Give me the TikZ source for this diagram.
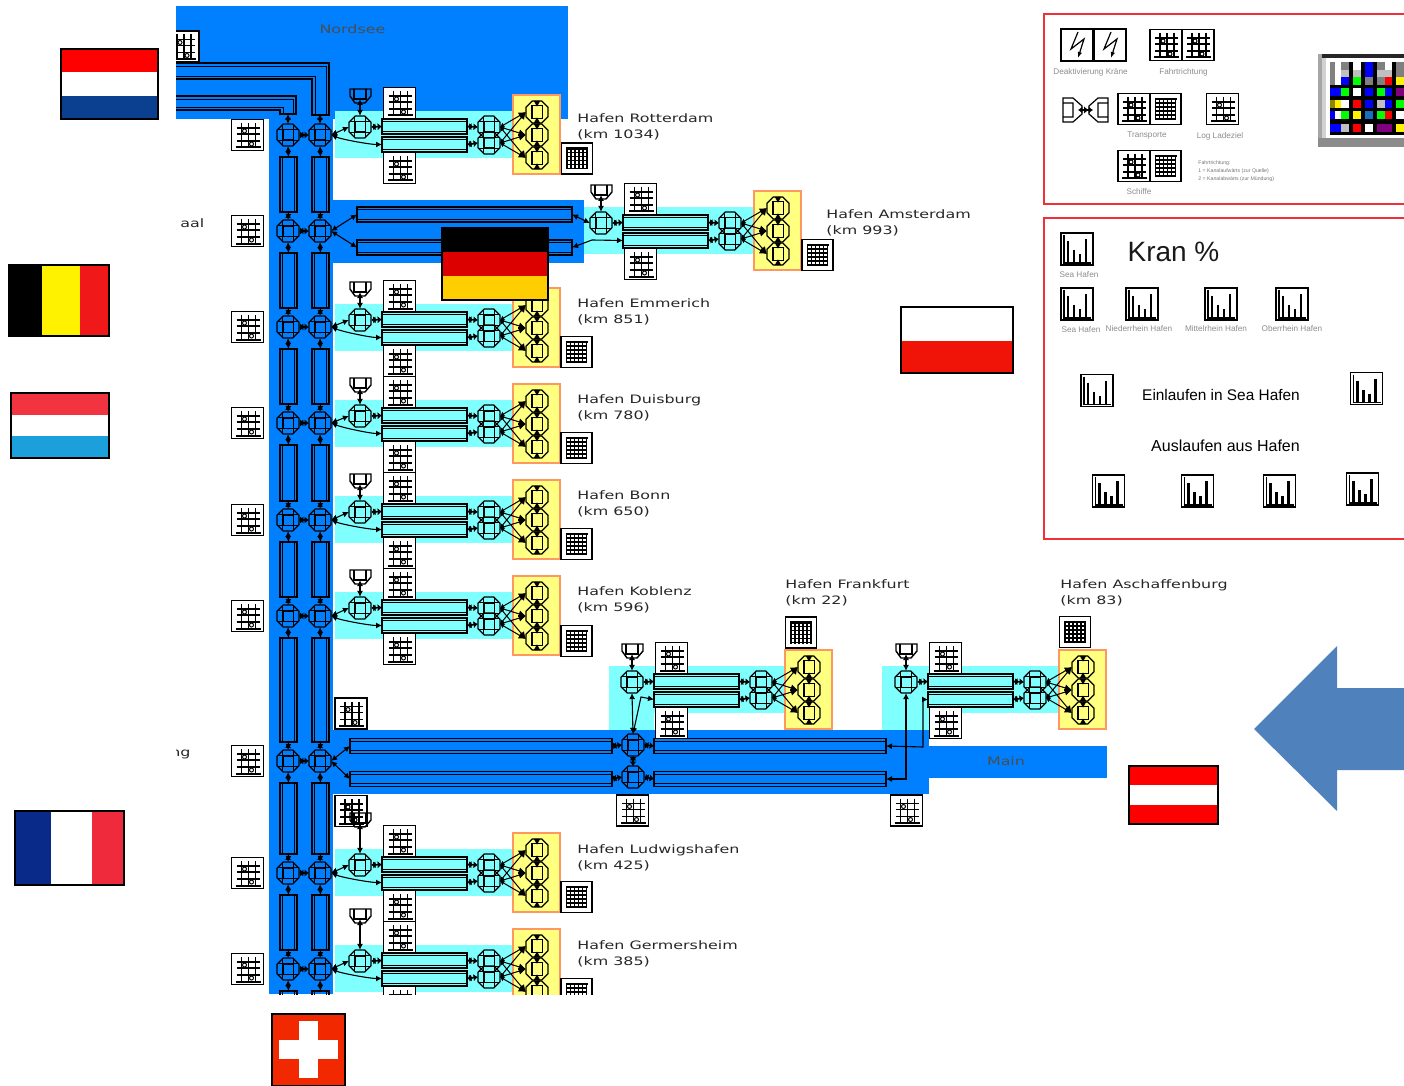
\documentclass[tikz,border=0pt]{standalone}
\usepackage{fontspec}
\setmainfont{Liberation Sans}
\newfontfamily\portfont[FakeStretch=1.37]{DejaVu Sans}
\usetikzlibrary{arrows.meta,shapes.geometric}
\definecolor{seablue}{HTML}{0080FF}
\definecolor{portcyan}{HTML}{80FFFF}
\definecolor{portyellow}{HTML}{FFFF80}
\definecolor{portorange}{HTML}{FF9860}
\definecolor{panelred}{HTML}{EE3038}
\definecolor{arrowblue}{HTML}{4F81BD}
\definecolor{nlblue}{HTML}{0B3F8F}
\definecolor{frblue}{HTML}{0A2A8A}
\definecolor{frred}{HTML}{EE2A3C}
\definecolor{beyellow}{HTML}{FFF200}
\definecolor{bered}{HTML}{F01818}
\definecolor{lured}{HTML}{F23340}
\definecolor{lublue}{HTML}{1CA0DC}
\definecolor{chred}{HTML}{F22800}
\definecolor{degold}{HTML}{FFCE00}
\definecolor{dered}{HTML}{DD0000}
\definecolor{plred}{HTML}{F01408}
\tikzset{
  link/.style={<->,line width=.55pt},
  fatlink/.style={{Latex[length=2.2pt,width=3.6pt]}-{Latex[length=2.2pt,width=3.6pt]Latex[length=2.2pt,width=3.6pt]},line width=.7pt},
  fanlink/.style={{Latex[length=2pt,width=2.6pt]}-{Latex[length=3.6pt,width=3.6pt]},line width=.5pt},
  iconbox/.style={draw=black,line width=.8pt,fill=white},
  panelbox/.style={draw=panelred,line width=.8pt},
  flagbox/.style={draw=black,line width=.8pt},
  portlab/.style={font=\portfont\fontsize{5.8}{8}\selectfont,text=black!85,align=left,anchor=west,inner sep=0},
  smalllab/.style={font=\fontsize{4.1}{5}\selectfont,text=black!45,inner sep=0},
  biglab/.style={font=\fontsize{7.7}{9}\selectfont,inner sep=0},
  octnode/.style={regular polygon,regular polygon sides=8,draw=black,line width=.6pt,
    minimum size=12pt,inner sep=0,outer sep=0,
    path picture={
      \draw[line width=.45pt] ([xshift=-2.6pt]path picture bounding box.north)--([xshift=-2.6pt]path picture bounding box.south);
      \draw[line width=.45pt] ([xshift=2.6pt]path picture bounding box.north)--([xshift=2.6pt]path picture bounding box.south);
      \draw[line width=.45pt] ([yshift=-2.6pt]path picture bounding box.west)--([yshift=-2.6pt]path picture bounding box.east);
      \draw[line width=.45pt] ([yshift=2.6pt]path picture bounding box.west)--([yshift=2.6pt]path picture bounding box.east);
      \draw[line width=.7pt] ([shift={(-2.6pt,-2.6pt)}]path picture bounding box.center) rectangle ([shift={(2.6pt,2.6pt)}]path picture bounding box.center);
    }},
  keyoct/.style={octnode,
    path picture={
      \draw[line width=.7pt] ([shift={(-2.6pt,-3.2pt)}]path picture bounding box.center) rectangle ([shift={(2.6pt,3.2pt)}]path picture bounding box.center);
      \fill ([xshift=-1.6pt]path picture bounding box.north) -- ([xshift=1.6pt]path picture bounding box.north) -- ([yshift=-2.8pt]path picture bounding box.north) -- cycle;
      \fill ([xshift=-1.6pt]path picture bounding box.south) -- ([xshift=1.6pt]path picture bounding box.south) -- ([yshift=2.8pt]path picture bounding box.south) -- cycle;
    }},
  hlane/.style={draw=black,line width=.7pt,inner sep=0,outer sep=0,minimum height=7.5pt,
    path picture={
      \draw[line width=.4pt] ([yshift=-1.4pt]path picture bounding box.north west)--([yshift=-1.4pt]path picture bounding box.north east);
      \draw[line width=.4pt] ([yshift=1.4pt]path picture bounding box.south west)--([yshift=1.4pt]path picture bounding box.south east);
    }},
  vlane/.style={draw=black,line width=.7pt,inner sep=0,outer sep=0,minimum width=8.5pt,
    path picture={
      \draw[line width=.4pt] ([xshift=1.4pt]path picture bounding box.north west)--([xshift=1.4pt]path picture bounding box.south west);
      \draw[line width=.4pt] ([xshift=-1.4pt]path picture bounding box.north east)--([xshift=-1.4pt]path picture bounding box.south east);
    }},
  pics/gridicon/.style={code={
    \draw[iconbox] (-16,-15.5) rectangle (16,15.5);
    \foreach \k in {-6,1,8} \draw[line width=.6pt] (\k,-12)--(\k,12);
    \foreach \k in {-7,-1,6} \draw[line width=.6pt] (-11,\k)--(12,\k);
    \draw[line width=1pt] (-12,12.5)--(13,12.5);
    \draw[line width=.5pt,fill=white] (-3,-4) circle (2);
    \draw[line width=.5pt,fill=white] (4,9) circle (2);
  }},
  pics/tableicon/.style={code={
    \draw[iconbox] (-15.5,-15.5) rectangle (15.5,15.5);
    \foreach \k in {-10,-6,...,10} {
      \draw[line width=.65pt] (\k,-10)--(\k,11);
      \draw[line width=.65pt] (-10,\k)--(10,\k);
    }
    \draw[line width=1.2pt] (-11,-10)--(11,-10);
  }},
  pics/chartbox/.style={code={
    \draw[draw=black,line width=.8pt] (-16,-16) rectangle (16,16);
    \draw[line width=.8pt] (-13,-14)--(-13,14)--(14,14);
    \draw[line width=1.3pt] (-9,-8)--(-9,14);
    \draw[line width=1.3pt] (-3,1)--(-3,14);
    \draw[line width=1.3pt] (3,5)--(3,14);
    \draw[line width=1.3pt] (9,-10)--(9,14);
  }},
  pics/boltbox/.style={code={
    \draw[iconbox] (-16,-16) rectangle (16,16);
    \draw[line width=.6pt,-{Latex[length=3pt]}] (1,-13)--(-6,4)--(7,-6)--(1,13);
  }},
  pics/harbour/.style={code={
    \pic at (399.5,103) {gridicon};
    \pic at (399.5,168) {gridicon};
    \draw[draw=portorange,line width=.8pt,fill=portyellow] (513,95) rectangle (560,174);
    \node[hlane,fill=portcyan,minimum width=42.5pt] (-qa) at (424.5,126.5) {};
    \node[hlane,fill=portcyan,minimum width=42.5pt] (-qb) at (424.5,144.5) {};
    \node[octnode] (-fork) at (360,127) {};
    \node[octnode] (-ra) at (489,127) {};
    \node[octnode] (-rb) at (489,143) {};
    \node[keyoct] (-ka) at (537,112) {};
    \node[keyoct] (-kb) at (537,135) {};
    \node[keyoct] (-kc) at (537,158) {};
    \draw[line width=.7pt] (350,89+#1)--(371,89+#1)--(371,96+#1)--(365,103+#1)--(355,103+#1)--(350,96+#1)--cycle;
    \draw[line width=.7pt] (354,89+#1)--(354,99+#1)--(366,99+#1)--(366,89+#1);
    \coordinate (-cup) at (360,99+#1);
    \draw[link] (-cup)--(-fork.north);
    \draw[fatlink] (-fork.east)--(-qa.west);
    \draw[fatlink] (-qa.east)--(-ra.west);
    \draw[fatlink] (-qb.east)--(-rb.west);
    \draw[fanlink] (-ra.east)--(-ka.west);
    \draw[fanlink] (-ra.east)--(-kb.west);
    \draw[fanlink] (-rb.east)--(-ka.west);
    \draw[fanlink] (-rb.east)--(-kb.west);
    \draw[fanlink] (-rb.east)--(-kc.west);
    \draw[fanlink] (-ra.east)--(-kc.west);
  }}
}
\begin{document}
\begin{tikzpicture}[x=.5pt,y=-.5pt,>={Latex[length=3pt,width=3pt]}]
  \useasboundingbox (0,0) rectangle (1404,1086);
  \clip (0,0) rectangle (1404,1086);
  % river network
  \begin{scope}
    \clip (176,0) rectangle (1250,994);
    \fill[seablue] (176,6) rectangle (568,119);
    \fill[seablue] (269,100) rectangle (333,994);
    \fill[seablue] (333,200) rectangle (584,263);
    \fill[seablue] (333,730) rectangle (929,794);
    \fill[seablue] (929,746) rectangle (1107,778);
    \foreach \xa/\ya/\xb/\yb in {335/111/513/158,584/207/754/254,335/304/513/351,335/400/513/447,
      335/496/513/543,335/592/513/639,335/849/513/896,335/945/513/992,
      609/666/785/713,609/666/654/730,882/666/1060/713,882/666/929/730}
      \fill[portcyan] (\xa,\ya) rectangle (\xb,\yb);
    \node[font=\portfont\fontsize{5.8}{7}\selectfont,text=black!70,inner sep=0] (nordsee) at (352.5,29) {Nordsee};
    \node[font=\portfont\fontsize{5.8}{7}\selectfont,text=black!70,inner sep=0] (main) at (1006,761) {Main};
    \node[portlab] (aal) at (180,223) {aal};
    \node[portlab] (ng) at (170,754) {ng};
    % loose icons
    \foreach \x/\y in {183/46.5,351/713.5,351/811,632.5/810.5,906.5/810.5}
      \pic at (\x,\y) {gridicon};
    % ports
    \foreach \p/\dx/\dy/\c in {rot/0/0/0,ams/241/96/0,emm/0/193/0,dui/0/289/0,bon/0/385/0,kob/0/481/0,
      fra/272/555/0,asc/546/555/0,lud/0/738/-14,ger/0/834/-14}
      \pic (\p) at (\dx,\dy) {harbour=\c};
    \foreach \x/\y in {577/158.5,817.5/255,576.5/352,576.5/448,576.5/544,576.5/641,801/632.5,1075/632,576.5/897,576.5/994}
      \pic at (\x,\y) {tableicon};
    % bent lanes into the sea
    \draw[line width=.7pt] (176,63)--(329,63)--(329,115)--(312,115)--(312,79)--(176,79);
    \draw[line width=.4pt] (176,66)--(326,66)--(326,115);
    \draw[line width=.4pt] (176,76)--(315,76)--(315,115);
    \draw[line width=.7pt] (176,96)--(296,96)--(296,114)--(280,114)--(280,110)--(176,110);
    \draw[line width=.4pt] (176,99)--(293,99)--(293,114);
    \draw[line width=.4pt] (176,107)--(283,107)--(283,114);
    \coordinate (topa) at (288,114);
    \coordinate (topb) at (320,114);
    % rhine
    \foreach \y/\n [count=\r] in {135/231,231/327,327/423,423/520,520/616,616/761,761/873,873/969,969/1065} {
      \pgfmathsetmacro\lc{(\y+\n+3)/2}
      \pgfmathsetmacro\lh{(\n-\y-41)/2}
      \pic at (247.5,\y) {gridicon};
      \node[octnode] (ma\r) at (288,\y) {};
      \node[octnode] (mb\r) at (320,\y) {};
      \node[vlane,minimum height=\lh pt] (va\r) at (288.5,\lc) {};
      \node[vlane,minimum height=\lh pt] (vb\r) at (320.5,\lc) {};
      \draw[fatlink] (ma\r.east)--(mb\r.west);
      \draw[link] (ma\r.south)--(va\r.north);
      \draw[link] (mb\r.south)--(vb\r.north);
    }
    \foreach \r/\s in {1/2,2/3,3/4,4/5,5/6,6/7,7/8,8/9} {
      \draw[link] (va\r.south)--(ma\s.north);
      \draw[link] (vb\r.south)--(mb\s.north);
    }
    \draw[link] (topa)--(ma1.north);
    \draw[link] (topb)--(mb1.north);
    \foreach \r/\h in {1/rot,3/emm,4/dui,5/bon,6/kob,8/lud,9/ger} {
      \draw[link] (mb\r.east)--(\h-fork.west);
      \draw[link] (mb\r.east) to[out=-22,in=180,looseness=.6] (\h-qb.west);
    }
    % amsterdam arm
    \node[hlane,minimum width=107.5pt] (ala) at (464.5,214.5) {};
    \node[hlane,minimum width=107.5pt] (alb) at (464.5,247.5) {};
    \coordinate (alk) at (592,240);
    \draw[link] (mb2.east)--(ala.west);
    \draw[link] (mb2.east)--(alb.west);
    \draw[link] (ala.east)--(ams-fork.west);
    \draw[link] (alb.east)--(alk)--(ams-qb.west);
    % main arm
    \node[hlane,minimum width=131pt] (mla) at (481,746) {};
    \node[hlane,minimum width=131pt] (mlb) at (481,779) {};
    \node[octnode] (cma) at (633,745) {};
    \node[octnode] (cmb) at (633,777) {};
    \node[hlane,minimum width=116pt] (mra) at (770,746) {};
    \node[hlane,minimum width=116pt] (mrb) at (770,779) {};
    \coordinate (benda) at (923,747);
    \coordinate (frk) at (641,697);
    \draw[link] (mb7.east)--(mla.west);
    \draw[link] (mb7.east)--(mlb.west);
    \draw[fatlink] (mla.east)--(cma.west);
    \draw[fatlink] (mlb.east)--(cmb.west);
    \draw[fatlink] (cma.east)--(mra.west);
    \draw[fatlink] (cmb.east)--(mrb.west);
    \draw[fatlink] (cma.south)--(cmb.north);
    \draw[link] (cma.north)--(fra-fork.south);
    \draw[link] (cma.north)--(frk)--(fra-qb.west);
    \draw[link] (mrb.east) -| (asc-fork.south);
    \draw[link] (mra.east) -- (benda) |- (asc-qb.west);
    % port names
    \foreach \p/\x/\y/\t/\k in {rot/577/127/Rotterdam/1034,ams/826/223/Amsterdam/993,emm/577/312/Emmerich/851,
      dui/577/408/Duisburg/780,bon/577/504/Bonn/650,kob/577/600/Koblenz/596,fra/785/593/Frankfurt/22,
      asc/1060/593/Aschaffenburg/83,lud/577/858/Ludwigshafen/425,ger/577/954/Germersheim/385}
      \node[portlab] (\p-lab) at (\x,\y) {Hafen \t\\(km \k)};
  \end{scope}
  % big arrow
  \fill[arrowblue] (1254,729)--(1337,646)--(1337,688)--(1404,688)--(1404,770)--(1337,770)--(1337,811)--cycle;
  % legend top
  \draw[panelbox] (1044,14) rectangle (1420,204);
  \pic at (1077,45) {boltbox};
  \pic at (1110,45) {boltbox};
  \pic at (1166,45) {gridicon};
  \pic at (1198,45) {gridicon};
  \pic at (1134,109) {gridicon};
  \pic at (1165.5,109) {tableicon};
  \pic at (1222.5,109) {gridicon};
  \pic at (1134,166) {gridicon};
  \pic at (1165.5,166) {tableicon};
  \draw[line width=.6pt] (1063,98)--(1073,98)--(1082,106)--(1082,114)--(1073,122)--(1063,122)--cycle (1063,103)--(1073,103)--(1073,117)--(1063,117);
  \draw[line width=.6pt] (1108,98)--(1098,98)--(1089,106)--(1089,114)--(1098,122)--(1108,122)--cycle (1108,103)--(1098,103)--(1098,117)--(1108,117);
  \coordinate (capa) at (1078,110);
  \coordinate (capb) at (1093,110);
  \draw[fatlink] (capa)--(capb);
  \node[smalllab] (lkr) at (1090.5,72) {Deaktivierung Kräne};
  \node[smalllab] (lft) at (1183.5,72) {Fahrtrichtung};
  \node[smalllab] (ltr) at (1147,136) {Transporte};
  \node[smalllab] (lll) at (1220,136) {Log Ladeziel};
  \node[smalllab] (lsc) at (1139,192) {Schiffe};
  \node[font=\fontsize{2.6}{3.9}\selectfont,text=black!55,align=left,anchor=west,inner sep=0] (lrd) at (1198,171)
    {Fahrtrichtung:\\1 = Kanalaufwärts (zur Quelle)\\2 = Kanalabwärts (zur Mündung)};
  % status mosaic
  \fill[white] (1318,54) rectangle (1404,147);
  \fill[black!35] (1318,54) rectangle (1322,147);
  \fill[black!18] (1322,58) rectangle (1326,138);
  \fill[black!85] (1322,54) rectangle (1404,58);
  \fill[black!45] (1318,138) rectangle (1404,147);
  \fill[black] (1330,62) rectangle (1404,135);
  \foreach \ya/\yb/\cells in {62/70/{gray,white,gray,white,blue,gray,white,gray},
    70/77/{gray,white,lightgray,lightgray,blue,lightgray,lightgray,gray},
    77/85/{gray,white,blue,green,gray,gray,red,yellow},
    88/96/{blue,blue,green,white,blue,green,blue,violet},
    100/108/{olive,yellow,white,red,blue,lightgray,blue,green},
    111/119/{blue,white,green,yellow,cyan!50!blue,green,red,white},
    124/132/{blue,blue,lightgray,red,white,violet,violet,yellow}} {
    \foreach \cellcol [count=\k] in \cells {
      \pgfmathsetmacro\xa{{1330,1335,1341,1353,1365,1377,1385,1396}[\k-1]}
      \pgfmathsetmacro\xb{{1335,1341,1349,1361,1373,1385,1392,1404}[\k-1]}
      \fill[\cellcol] (\xa,\ya) rectangle (\xb,\yb);
    }
  }
  % legend bottom
  \draw[panelbox] (1044,218) rectangle (1420,539);
  \foreach \x/\y in {1077/249,1077/304,1142/304,1221/304,1292/304,1097/390.5,1366.5/388.5,1108.5/491,1197.5/491,1279.5/491,1362.5/489}
    \pic at (\x,\y) {chartbox};
  \node[font=\fontsize{14}{16}\selectfont,inner sep=0,text=black!90] (kran) at (1173.5,252) {Kran \%};
  \node[smalllab] (lsa) at (1079,275) {Sea Hafen};
  \node[smalllab] (lsb) at (1081,330) {Sea Hafen};
  \node[smalllab] (lni) at (1139,329) {Niederrhein Hafen};
  \node[smalllab] (lmi) at (1216,329) {Mittelrhein Hafen};
  \node[smalllab] (lob) at (1292,329) {Oberrhein Hafen};
  \node[biglab] (lein) at (1221,395) {Einlaufen in Sea Hafen};
  \node[biglab,font=\fontsize{8}{9}\selectfont] (laus) at (1225.5,446) {Auslaufen aus Hafen};
  % flags
  \fill[red] (61,49) rectangle (158,72);
  \fill[white] (61,72) rectangle (158,96);
  \fill[nlblue] (61,96) rectangle (158,119);
  \draw[flagbox] (61,49) rectangle (158,119);
  \fill[black] (9,265) rectangle (42,336);
  \fill[beyellow] (42,265) rectangle (80,336);
  \fill[bered] (80,265) rectangle (109,336);
  \draw[flagbox] (9,265) rectangle (109,336);
  \fill[lured] (11,393) rectangle (109,415);
  \fill[white] (11,415) rectangle (109,436);
  \fill[lublue] (11,436) rectangle (109,458);
  \draw[flagbox] (11,393) rectangle (109,458);
  \fill[frblue] (15,811) rectangle (51,885);
  \fill[white] (51,811) rectangle (92,885);
  \fill[frred] (92,811) rectangle (124,885);
  \draw[flagbox] (15,811) rectangle (124,885);
  \fill[chred] (272,1014) rectangle (345,1086);
  \fill[white] (299,1021) rectangle (318,1078);
  \fill[white] (279,1040) rectangle (338,1059);
  \draw[flagbox] (272,1014) rectangle (345,1086);
  \fill[black] (442,228) rectangle (548,252);
  \fill[dered] (442,252) rectangle (548,276);
  \fill[degold] (442,276) rectangle (548,300);
  \draw[flagbox] (442,228) rectangle (548,300);
  \fill[white] (901,307) rectangle (1013,341);
  \fill[plred] (901,341) rectangle (1013,373);
  \draw[flagbox] (901,307) rectangle (1013,373);
  \fill[red] (1129,766) rectangle (1218,785);
  \fill[white] (1129,785) rectangle (1218,805);
  \fill[red] (1129,805) rectangle (1218,824);
  \draw[flagbox] (1129,766) rectangle (1218,824);
\end{tikzpicture}
\end{document}
